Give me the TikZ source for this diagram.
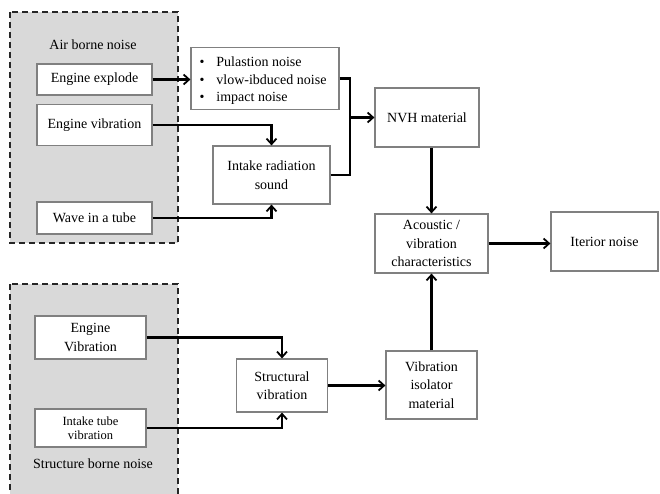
\documentclass[tikz,border=0pt]{standalone}
\usepackage{fontspec}
\setmainfont{Liberation Serif}
\usetikzlibrary{arrows.meta}
\definecolor{grpfill}{HTML}{D9D9D9}
\definecolor{boxline}{HTML}{808080}
\tikzset{
  grp/.style={draw=black!85, fill=grpfill, line width=1.8pt, dash pattern=on 6pt off 4pt},
  blk/.style={draw=boxline, fill=white, line width=1.2pt, align=center, inner sep=1pt,
    font=\fontsize{14}{18.5}\selectfont},
  conn/.style={line width=2.1pt, black},
  arr/.style={conn, -{Straight Barb[length=5.5pt,width=10pt,line width=1.8pt]}},
  lbl/.style={font=\fontsize{14}{16}\selectfont}
}
\begin{document}
\begin{tikzpicture}[x=1pt,y=-1pt]
\useasboundingbox (0,0) rectangle (660,494);
\clip (0,0) rectangle (660,494);
% groups
\draw[grp] (10,12) rectangle (178,243);
\draw[grp] (10,284) rectangle (178,510);
\node[lbl] (airlbl) at (93,45) {Air borne noise};
\node[lbl] (strlbl) at (93,464) {Structure borne noise};
% boxes
\node[blk, minimum width=115pt, minimum height=31pt] (explode) at (94.5,79.5) {Engine explode};
\node[blk, minimum width=115pt, minimum height=41pt] (vib) at (94.5,125) {Engine vibration};
\node[blk, minimum width=115pt, minimum height=32pt] (wave) at (94.5,218) {Wave in a tube};
\node[blk, minimum width=148pt, minimum height=62pt] (bullets) at (265,78.5) {};
\node[lbl, anchor=west] (b1) at (196,62) {\textbullet\hspace{12pt}Pulastion noise};
\node[lbl, anchor=west] (b2) at (196,80) {\textbullet\hspace{12pt}vlow-ibduced noise};
\node[lbl, anchor=west] (b3) at (196,98.5) {\textbullet\hspace{12pt}impact noise};
\node[blk, minimum width=117pt, minimum height=58pt] (intake) at (271.5,175) {Intake radiation\\sound};
\node[blk, minimum width=104pt, minimum height=59pt] (nvh) at (427,117.5) {NVH material};
\node[blk, minimum width=113pt, minimum height=59pt] (acoustic) at (431.5,243.5) {Acoustic /\\vibration\\characteristics};
\node[blk, minimum width=107pt, minimum height=59pt] (iterior) at (604.5,241.5) {Iterior noise};
\node[blk, minimum width=111pt, minimum height=43pt] (ev2) at (90.5,337.5) {Engine\\Vibration};
\node[blk, minimum width=111pt, minimum height=38pt, font=\fontsize{12.5}{14}\selectfont] (itv) at (90.5,428) {Intake tube\\vibration};
\node[blk, minimum width=91pt, minimum height=53pt] (struct) at (282,385.5) {Structural\\vibration};
\node[blk, minimum width=91pt, minimum height=68pt] (iso) at (431.5,385) {Vibration\\isolator\\material};
% connectors
\coordinate (j) at (350,117.5);
\draw[arr] (explode.east) -- (explode.east -| bullets.west);
\draw[arr] (vib.east) -| (intake.north);
\draw[arr] (wave.east) -| (intake.south);
\draw[conn] (bullets.east) -| (j);
\draw[conn] (intake.east) -| (j);
\draw[arr] (j) -- (nvh.west |- j);
\draw[arr] (acoustic.north |- nvh.south) -- (acoustic.north);
\draw[arr] (acoustic.east) -- (acoustic.east -| iterior.west);
\draw[arr] (ev2.east) -| (struct.north);
\draw[arr] (itv.east) -| (struct.south);
\draw[arr] (struct.east) -- (struct.east -| iso.west);
\draw[arr] (iso.north) -- (acoustic.south);
\end{tikzpicture}
\end{document}
